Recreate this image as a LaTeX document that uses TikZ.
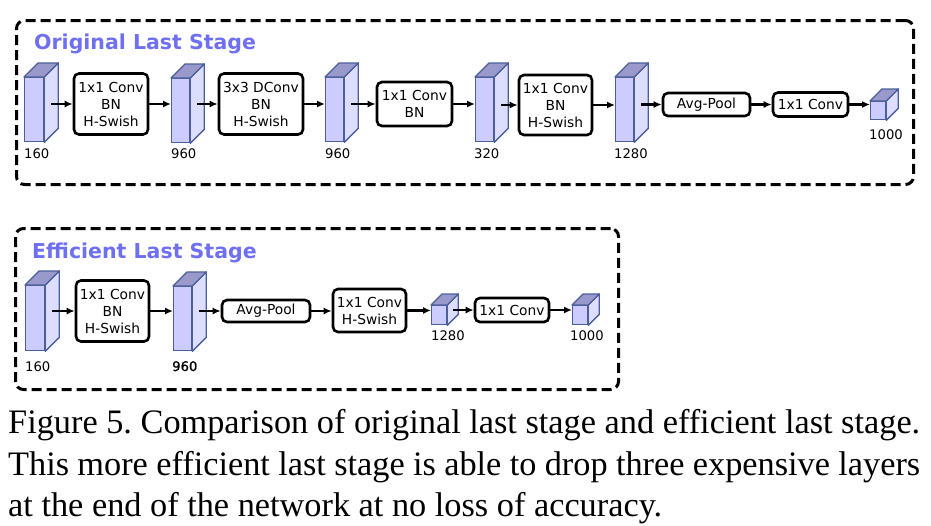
\documentclass[tikz,border=0pt]{standalone}
\usepackage{fontspec}
\setmainfont{Liberation Serif}
\newfontfamily\djv{DejaVu Sans}
\newfontfamily\djvfb[FakeBold=1.2]{DejaVu Sans}
\usetikzlibrary{arrows.meta,calc}
\definecolor{cubfront}{HTML}{CCCCFF}
\definecolor{cubside}{HTML}{DDDDFF}
\definecolor{cubtop}{HTML}{9999CC}
\definecolor{cubedge}{HTML}{4B5F9B}
\definecolor{ttl}{HTML}{6F6FF2}
\newcommand{\cub}[6]{%
  \node[cubef, minimum width=#4pt, minimum height=#5pt, anchor=north west] (#1) at (#2,#3) {};
  \draw[cubee, fill=cubside] (#1.north east) -- ++(#6,-#6) -- ([shift={(#6,-#6)}]#1.south east) -- (#1.south east) -- cycle;
  \draw[cubee, fill=cubtop] (#1.north west) -- ++(#6,-#6) -- ([shift={(#6,-#6)}]#1.north east) -- (#1.north east) -- cycle;
  \coordinate (#1s) at ([xshift={#6/2}]#1.east);
}
\frenchspacing
\begin{document}
\begin{tikzpicture}[x=1pt,y=-1pt,
  cubef/.style={draw=cubedge, fill=cubfront, line width=1.3pt, inner sep=0pt},
  cubee/.style={draw=cubedge, line width=1.3pt, line join=round},
  blk/.style={draw, line width=2.6pt, rounded corners=5pt, inner sep=0pt, align=center,
    font=\djv\fontsize{13.8}{17}\selectfont},
  arr/.style={line width=2.2pt, -{Latex[length=8pt,width=7pt]}},
  lbl/.style={anchor=base west, inner sep=0pt, font=\djv\fontsize{13.2}{16}\selectfont},
  ttlsty/.style={anchor=base west, inner sep=0pt, text=ttl, font=\djv\bfseries\fontsize{20.5}{24}\selectfont},
  frame/.style={draw, line width=3pt, dash pattern=on 10pt off 5pt, rounded corners=8pt, inner sep=0pt, anchor=north west},
  capsty/.style={anchor=base west, inner sep=0pt, font=\fontsize{34.3}{41}\selectfont}]
\useasboundingbox (0,0) rectangle (931,525);
% frames
\node[frame, minimum width=897pt, minimum height=164pt] (f1) at (15,19) {};
\node[frame, minimum width=603pt, minimum height=161pt] (f2) at (14,227) {};
\node[ttlsty] (t1) at (34,49) {Original Last Stage};
\node[ttlsty] (t2) at (32,258) {Efficient Last Stage};
% row 1
\cub{c1}{24}{77}{19}{64}{14}
\cub{c2}{171}{78}{18}{64}{14}
\cub{c3}{325}{77}{18}{64}{14}
\cub{c4}{475}{77}{18}{64}{14}
\cub{c5}{615}{77}{18}{64}{14}
\cub{c6}{870}{101}{15}{18}{12}
\node[blk, minimum width=74pt, minimum height=61pt] (b1) at (111,104) {1x1 Conv\\BN\\H-Swish};
\node[blk, minimum width=84pt, minimum height=61pt] (b2) at (261,104) {3x3 DConv\\BN\\H-Swish};
\node[blk, minimum width=75pt, minimum height=44pt] (b3) at (414.5,104) {1x1 Conv\\BN};
\node[blk, minimum width=73pt, minimum height=60pt] (b4) at (555.5,105) {1x1 Conv\\BN\\H-Swish};
\node[blk, minimum width=87pt, minimum height=23pt] (b5) at (706.5,104.5) {\raisebox{-1.5pt}{Avg-Pool}};
\node[blk, minimum width=75pt, minimum height=24pt] (b6) at (810.5,104.5) {1x1 Conv};
\draw[arr] (c1s |- b1.west) -- (b1.west);
\draw[arr] (b1.east) -- (b1.east -| c2.west);
\draw[arr] (c2s |- b2.west) -- (b2.west);
\draw[arr] (b2.east) -- (b2.east -| c3.west);
\draw[arr] (c3s |- b3.west) -- (b3.west);
\draw[arr] (b3.east) -- (b3.east -| c4.west);
\draw[arr] (c4s |- b4.west) -- (b4.west);
\draw[arr] (b4.east) -- (b4.east -| c5.west);
\draw[arr] (c5s |- b5.west) -- (b5.west);
\draw[arr] (b5.east) -- (b5.east -| b6.west);
\draw[arr] (b6.east) -- (b6.east -| c6.west);
\node[lbl] (l1) at (24,158) {160};
\node[lbl] (l2) at (171,158) {960};
\node[lbl] (l3) at (325,158) {960};
\node[lbl] (l4) at (474,158) {320};
\node[lbl] (l5) at (614,158) {1280};
\node[lbl] (l6) at (869,139) {1000};
% row 2
\cub{d1}{25}{285}{19}{65}{14}
\cub{d2}{173}{286}{18}{64}{14}
\cub{d3}{431}{305}{15}{19}{11}
\cub{d4}{572}{305}{15}{19}{11}
\node[blk, minimum width=73pt, minimum height=61pt] (e1) at (112.5,311) {1x1 Conv\\BN\\H-Swish};
\node[blk, minimum width=88pt, minimum height=22pt] (e2) at (266,311) {\raisebox{-1.5pt}{Avg-Pool}};
\node[blk, minimum width=73pt, minimum height=43pt] (e3) at (369.5,310.5) {1x1 Conv\\H-Swish};
\node[blk, minimum width=74pt, minimum height=24pt] (e4) at (512,310) {1x1 Conv};
\draw[arr] (d1s |- e1.west) -- (e1.west);
\draw[arr] (e1.east) -- (e1.east -| d2.west);
\draw[arr] (d2s |- e2.west) -- (e2.west);
\draw[arr] (e2.east) -- (e2.east -| e3.west);
\draw[arr] (e3.east) -- (e3.east -| d3.west);
\draw[arr] (d3s |- e4.west) -- (e4.west);
\draw[arr] (e4.east) -- (e4.east -| d4.west);
\node[lbl] (m1) at (25,371) {160};
\node[lbl, font=\djvfb\fontsize{13.2}{16}\selectfont] (m2) at (172,371) {960};
\node[lbl] (m3) at (431,340) {1280};
\node[lbl] (m4) at (570,340) {1000};
% caption
\node[capsty] (k1) at (8,433) {\makebox[912pt][s]{Figure 5. Comparison of original last stage and efficient last stage.}};
\node[capsty] (k2) at (8,475) {\makebox[912pt][s]{This more efficient last stage is able to drop three expensive layers}};
\node[capsty] (k3) at (8,516) {at the end of the network at no loss of accuracy.};
\end{tikzpicture}
\end{document}
